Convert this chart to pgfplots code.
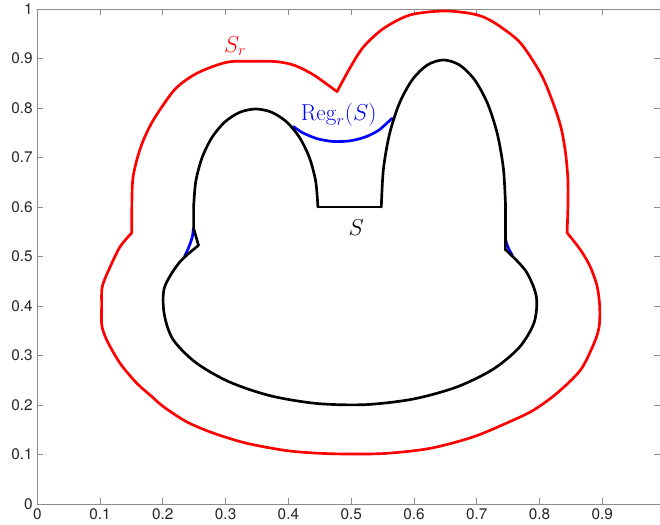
\documentclass[border=0pt]{standalone}
\usepackage[no-math]{fontspec}
\setmainfont{TeX Gyre Heros}
\usepackage{pgfplots}
\pgfplotsset{compat=1.18}

\begin{document}
\begin{tikzpicture}
\begin{axis}[
    name=ax,
    width=467pt, height=371.25pt, scale only axis,
    xmin=0, xmax=0.992, ymin=0, ymax=1,
    xtick={0,0.1,0.2,0.3,0.4,0.5,0.6,0.7,0.8,0.9},
    ytick={0,0.1,0.2,0.3,0.4,0.5,0.6,0.7,0.8,0.9,1},
    tick align=inside, major tick length=4.5pt,
    axis line style={black!45, line width=0.6pt},
    tick style={black!45, line width=0.6pt},
    ticklabel style={font=\fontsize{11.5}{13}\selectfont, text=black!85},
    /pgf/number format/assume math mode=true,
    /pgf/number format/fixed, /pgf/number format/precision=1,
    clip=false,
    every axis plot/.append style={line width=2pt, line join=round, line cap=round},
]
% S_r, in three pieces between its corners
\addplot[red, smooth, tension=0.5] coordinates {
(0.1506,0.548) (0.1506,0.601) (0.152,0.655) (0.1585,0.695) (0.169,0.735)
(0.185,0.776) (0.214,0.830) (0.232,0.852) (0.254,0.870) (0.280,0.884)
(0.307,0.8935) (0.345,0.8945) (0.382,0.8935) (0.410,0.886) (0.440,0.867)
(0.4775,0.833)
};
\addplot[red, smooth, tension=0.5] coordinates {
(0.4775,0.833) (0.499,0.883) (0.520,0.924) (0.552,0.961) (0.594,0.988)
(0.6475,0.996) (0.690,0.991) (0.714,0.982) (0.738,0.964) (0.770,0.931)
(0.8017,0.870) (0.820,0.816) (0.834,0.762) (0.8416,0.7085) (0.8453,0.6545)
(0.8453,0.6006) (0.844,0.548)
};
\addplot[red, smooth, tension=0.5] coordinates {
(0.844,0.548) (0.8655,0.513) (0.881,0.479) (0.892,0.439) (0.896,0.398)
(0.895,0.358) (0.887,0.325) (0.8655,0.271) (0.828,0.224) (0.791,0.190)
(0.759,0.170) (0.6954,0.136) (0.626,0.1125) (0.557,0.1024) (0.500,0.101)
(0.451,0.1024) (0.398,0.1077) (0.334,0.1226) (0.281,0.143) (0.238,0.166)
(0.201,0.1966) (0.1825,0.217) (0.1585,0.244) (0.132,0.284) (0.1107,0.331)
(0.1027,0.3616) (0.1025,0.400) (0.1035,0.439) (0.116,0.479) (0.132,0.520)
(0.1506,0.548)
};
% Reg_r(S)
\addplot[blue, smooth] coordinates {
(0.4081,0.7625) (0.4226,0.7501) (0.4458,0.7380) (0.4713,0.7324)
(0.4974,0.7335) (0.5223,0.7414) (0.5443,0.7554) (0.5648,0.7790)
};
\addplot[blue, smooth] coordinates {
(0.2488,0.558) (0.2470,0.540) (0.2435,0.526) (0.2390,0.512) (0.2345,0.500)
};
\addplot[blue, smooth] coordinates {
(0.7457,0.537) (0.7480,0.525) (0.7520,0.513) (0.7566,0.503)
};
% S
\addplot[black] coordinates {(0.249,0.6) (0.249,0.557) (0.2568,0.5225)};
\addplot[black, smooth] coordinates {
(0.2568,0.5225) (0.2260,0.4874) (0.2025,0.4371) (0.2021,0.3844) (0.2160,0.3329)
(0.2521,0.2861) (0.3048,0.2473) (0.3706,0.2189) (0.4451,0.2031) (0.5231,0.2008)
(0.5993,0.2122) (0.6685,0.2365) (0.7260,0.2722) (0.7680,0.3166) (0.7915,0.3669)
(0.7949,0.4196) (0.7780,0.4711) (0.7457,0.514)
};
\addplot[black] coordinates {(0.7457,0.514) (0.746,0.6)};
\addplot[black, smooth] coordinates {
(0.746,0.6) (0.7426,0.6769) (0.7327,0.7485) (0.7170,0.8100) (0.6965,0.8572)
(0.6726,0.8869) (0.647,0.897) (0.6214,0.8869) (0.5975,0.8572) (0.5770,0.8100)
(0.5613,0.7485) (0.5514,0.6769) (0.548,0.6)
};
\addplot[black] coordinates {(0.548,0.6) (0.447,0.6)};
\addplot[black, smooth] coordinates {
(0.447,0.6) (0.4436,0.6512) (0.4337,0.699) (0.4180,0.740) (0.3975,0.7715)
(0.3736,0.7913) (0.348,0.798) (0.3224,0.7913) (0.2985,0.7715) (0.2780,0.740)
(0.2623,0.699) (0.2524,0.6512) (0.249,0.6)
};
\node[text=red, font=\fontsize{17.5}{20}\selectfont] at (axis cs:0.3153,0.925) {$S_r$};
\node[text=blue, font=\fontsize{17.5}{20}\selectfont] at (axis cs:0.48,0.786) {$\mathrm{Reg}_r(S)$};
\node[text=black, font=\fontsize{17.5}{20}\selectfont] at (axis cs:0.508,0.558) {$S$};
\end{axis}
\pgfresetboundingbox
\path ([xshift=-27.98pt,yshift=-15pt]ax.south west) rectangle ([yshift=6.75pt]ax.north east);
\end{tikzpicture}
\end{document}
